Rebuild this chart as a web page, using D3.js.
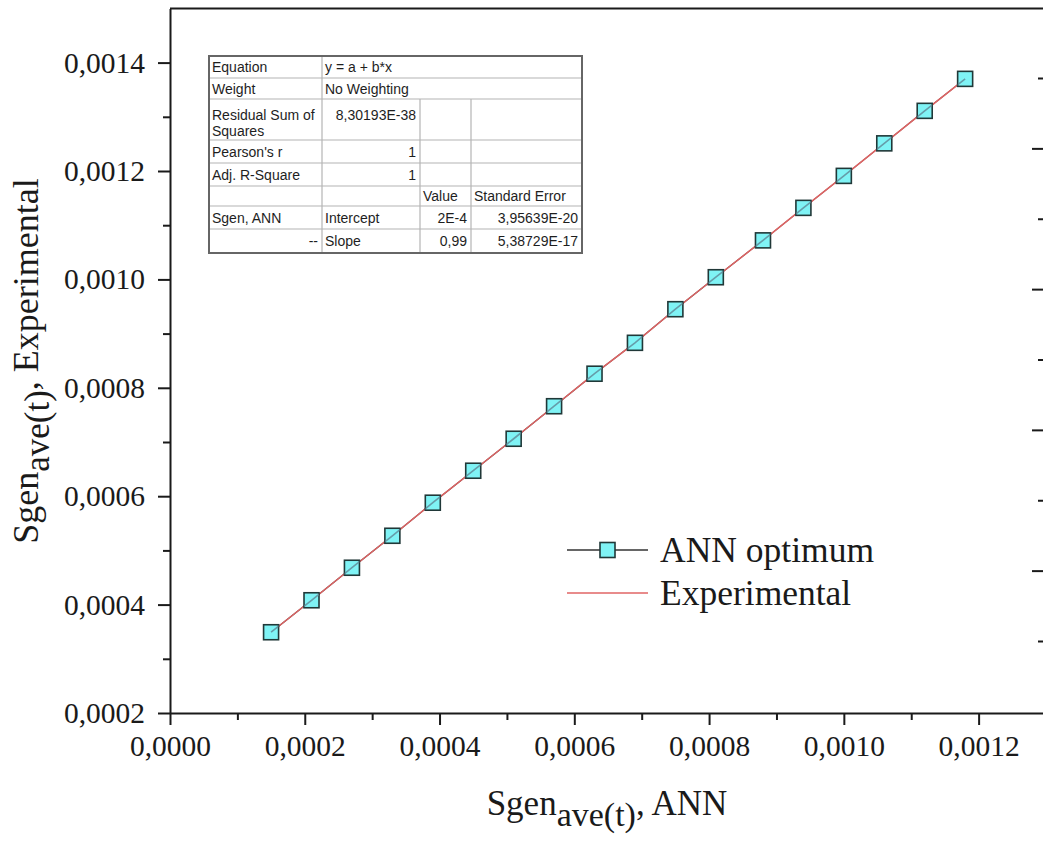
<!DOCTYPE html>
<html>
<head>
<meta charset="utf-8">
<script src="https://cdn.jsdelivr.net/npm/d3@7/dist/d3.min.js"></script>
<style>
  html, body { margin: 0; padding: 0; background: #fff; }
  svg { display: block; }
</style>
</head>
<body>
<script>
// ---------------- data ----------------
const xValues   = [0.00015, 0.00021, 0.00027, 0.00033, 0.00039, 0.00045, 0.00051, 0.00057, 0.00063,
                   0.00069, 0.00075, 0.00081, 0.00088, 0.00094, 0.00100, 0.00106, 0.00112, 0.00118];
const annValues = [0.000349, 0.000408, 0.000468, 0.000527, 0.000588, 0.000647, 0.000706, 0.000766, 0.000826,
                   0.000883, 0.000945, 0.001004, 0.001072, 0.001132, 0.001191, 0.001251, 0.001311, 0.001370];
const expValues = [0.000349, 0.000408, 0.000468, 0.000527, 0.000588, 0.000647, 0.000706, 0.000766, 0.000826,
                   0.000883, 0.000945, 0.001004, 0.001072, 0.001132, 0.001191, 0.001251, 0.001311, 0.001370];

const xMajorTicks = [0, 0.0002, 0.0004, 0.0006, 0.0008, 0.0010, 0.0012];
const xTickLabels = ["0,0000", "0,0002", "0,0004", "0,0006", "0,0008", "0,0010", "0,0012"];
const xMinorTicks = [0.0001, 0.0003, 0.0005, 0.0007, 0.0009, 0.0011];
const yMajorTicks = [0.0002, 0.0004, 0.0006, 0.0008, 0.0010, 0.0012, 0.0014];
const yTickLabels = ["0,0002", "0,0004", "0,0006", "0,0008", "0,0010", "0,0012", "0,0014"];
const yMinorTicks = [0.0003, 0.0005, 0.0007, 0.0009, 0.0011, 0.0013];
const rightTicks  = [0, 1, 2, 3, 4, 5, 6, 7, 8];

const seriesNames = ["ANN optimum", "Experimental"];

const tableRows = [
  ["Equation", "y = a + b*x"],
  ["Weight", "No Weighting"],
  ["Residual Sum of|Squares", "8,30193E-38", "", ""],
  ["Pearson's r", "1", "", ""],
  ["Adj. R-Square", "1", "", ""],
  ["", "", "Value", "Standard Error"],
  ["Sgen, ANN", "Intercept", "2E-4", "3,95639E-20"],
  ["--", "Slope", "0,99", "5,38729E-17"]
];

// ---------------- layout ----------------
const W = 1043, H = 841;
const svg = d3.select("body").append("svg").attr("width", W).attr("height", H);

const x = d3.scaleLinear().domain([0, 0.0013]).range([170, 1046]);
const y = d3.scaleLinear().domain([0.0002, 0.0015]).range([713, 8.4]);

const serif = "'Liberation Serif', 'Times New Roman', serif";
const sans = "'Liberation Sans', Arial, sans-serif";
const axisColor = "#1a1a1a";

// frame top line
svg.append("line")
  .attr("x1", x(0)).attr("x2", x(0.0013))
  .attr("y1", y(0.0015)).attr("y2", y(0.0015))
  .attr("stroke", axisColor).attr("stroke-width", 2);

// bottom axis
const gx = svg.append("g").attr("transform", `translate(0,${y(0.0002)})`);
gx.call(d3.axisBottom(x).tickValues(xMajorTicks).tickSize(12).tickSizeOuter(0)
  .tickFormat((d, i) => xTickLabels[i]).tickPadding(10));
gx.append("g").call(d3.axisBottom(x).tickValues(xMinorTicks).tickSize(7).tickFormat(""))
  .select(".domain").remove();
gx.selectAll("path.domain").attr("stroke", axisColor).attr("stroke-width", 2);
gx.selectAll(".tick line").attr("stroke", axisColor).attr("stroke-width", 2);
gx.selectAll(".tick text").attr("font-family", serif).attr("font-size", 29.5).attr("fill", "#1a1a1a");

// left axis
const gy = svg.append("g").attr("transform", `translate(${x(0)},0)`);
gy.call(d3.axisLeft(y).tickValues(yMajorTicks).tickSize(12).tickSizeOuter(0)
  .tickFormat((d, i) => yTickLabels[i]).tickPadding(13));
gy.append("g").call(d3.axisLeft(y).tickValues(yMinorTicks).tickSize(7).tickFormat(""))
  .select(".domain").remove();
gy.selectAll("path.domain").attr("stroke", axisColor).attr("stroke-width", 2);
gy.selectAll(".tick line").attr("stroke", axisColor).attr("stroke-width", 2);
gy.selectAll(".tick text").attr("font-family", serif).attr("font-size", 29.5).attr("fill", "#1a1a1a");

// right-edge tick marks (frame of cropped neighbour)
const rScale = d3.scaleLinear().domain([0, 8]).range([641, 78]);
const gr = svg.append("g").attr("transform", `translate(${W},0)`);
gr.call(d3.axisLeft(rScale).tickValues(rightTicks.filter(d => d % 2 === 1)).tickSize(11).tickFormat(""));
gr.append("g").call(d3.axisLeft(rScale).tickValues(rightTicks.filter(d => d % 2 === 0)).tickSize(5).tickFormat(""));
gr.selectAll("path.domain").remove();
gr.selectAll(".tick line").attr("stroke", axisColor).attr("stroke-width", 2);

// ---------------- series ----------------
const pts = xValues.map((d, i) => ({ x: d, ann: annValues[i], exp: expValues[i] }));
const lineAnn = d3.line().x(d => x(d.x)).y(d => y(d.ann));
const lineExp = d3.line().x(d => x(d.x)).y(d => y(d.exp));

svg.append("path").datum(pts).attr("d", lineAnn)
  .attr("fill", "none").attr("stroke", "#333").attr("stroke-width", 1.2);
svg.append("path").datum(pts).attr("d", lineExp)
  .attr("fill", "none").attr("stroke", "#e06464").attr("stroke-width", 1.5);

const ms = 15;
// clip region = symbol squares, so the line through the symbols shows only inside them
svg.append("defs").append("clipPath").attr("id", "symClip")
  .selectAll("rect").data(pts).join("rect")
  .attr("x", d => x(d.x) - ms / 2).attr("y", d => y(d.ann) - ms / 2)
  .attr("width", ms).attr("height", ms);

svg.append("g").selectAll("rect").data(pts).join("rect")
  .attr("x", d => x(d.x) - ms / 2).attr("y", d => y(d.ann) - ms / 2)
  .attr("width", ms).attr("height", ms)
  .attr("fill", "#7ff3f5")
  .attr("stroke", "#203838").attr("stroke-width", 1.6);
svg.append("path").datum(pts).attr("d", lineAnn).attr("clip-path", "url(#symClip)")
  .attr("fill", "none").attr("stroke", "#5f8796").attr("stroke-width", 1.6).attr("stroke-opacity", 0.8);

// ---------------- legend ----------------
const lg = svg.append("g");
const lx0 = 567, lx1 = 648, ly0 = 550, ly1 = 593;
lg.append("line").attr("x1", lx0).attr("x2", lx1).attr("y1", ly0).attr("y2", ly0)
  .attr("stroke", "#333").attr("stroke-width", 1.4);
lg.append("rect").attr("x", (lx0 + lx1) / 2 - 7.5).attr("y", ly0 - 7.5).attr("width", 15).attr("height", 15)
  .attr("fill", "#7ff3f5").attr("stroke", "#203838").attr("stroke-width", 1.6);
lg.append("line").attr("x1", lx0).attr("x2", lx1).attr("y1", ly1).attr("y2", ly1)
  .attr("stroke", "#e06464").attr("stroke-width", 1.5);
lg.selectAll("text").data(seriesNames).join("text")
  .attr("x", 660).attr("y", (d, i) => (i === 0 ? ly0 : ly1) + 12)
  .attr("font-family", serif).attr("font-size", 35.5).attr("fill", "#1a1a1a")
  .text(d => d);

// ---------------- axis titles ----------------
const xt = svg.append("text").attr("x", 607).attr("y", 815).attr("text-anchor", "middle")
  .attr("font-family", serif).attr("font-size", 35).attr("fill", "#1a1a1a");
xt.append("tspan").text("Sgen");
xt.append("tspan").attr("dy", 11).attr("font-size", 34).text("ave(t)");
xt.append("tspan").attr("dy", -11).text(", ANN");

const yt = svg.append("text").attr("transform", "translate(38,361) rotate(-90)").attr("text-anchor", "middle")
  .attr("font-family", serif).attr("font-size", 36).attr("fill", "#1a1a1a");
yt.append("tspan").text("Sgen");
yt.append("tspan").attr("dy", 11).attr("font-size", 35).text("ave(t)");
yt.append("tspan").attr("dy", -11).text(", Experimental");

// ---------------- fit table ----------------
const rowEdges = [56, 78, 99, 140, 163, 186, 206, 229, 253];
const colEdges = [209, 322, 420, 471, 582];
const tg = svg.append("g").attr("font-family", sans).attr("font-size", 14).attr("fill", "#1e1e1e");
tg.append("rect").attr("x", colEdges[0]).attr("y", rowEdges[0])
  .attr("width", colEdges[4] - colEdges[0]).attr("height", rowEdges[8] - rowEdges[0])
  .attr("fill", "#fff").attr("stroke", "none");
tg.selectAll("line.h").data(rowEdges.slice(1, -1)).join("line").attr("class", "h")
  .attr("x1", colEdges[0]).attr("x2", colEdges[4]).attr("y1", d => d).attr("y2", d => d)
  .attr("stroke", "#b4b4b4").attr("stroke-width", 1.2);
tg.append("line").attr("x1", colEdges[1]).attr("x2", colEdges[1]).attr("y1", rowEdges[0]).attr("y2", rowEdges[8])
  .attr("stroke", "#b4b4b4").attr("stroke-width", 1.2);
[colEdges[2], colEdges[3]].forEach(cx => {
  tg.append("line").attr("x1", cx).attr("x2", cx).attr("y1", rowEdges[2]).attr("y2", rowEdges[8])
    .attr("stroke", "#b4b4b4").attr("stroke-width", 1.2);
});
tg.append("rect").attr("x", colEdges[0]).attr("y", rowEdges[0])
  .attr("width", colEdges[4] - colEdges[0]).attr("height", rowEdges[8] - rowEdges[0])
  .attr("fill", "none").attr("stroke", "#666").attr("stroke-width", 2);

const isNum = s => /^[-0-9,E.]+$/.test(s) && s !== "--";
tableRows.forEach((row, ri) => {
  const top = rowEdges[ri], bot = rowEdges[ri + 1];
  row.forEach((cell, ci) => {
    if (!cell) return;
    const lines = cell.split("|");
    const right = isNum(cell) || cell === "--";
    const xl = right ? colEdges[ci + 1] - 4 : colEdges[ci] + 3;
    lines.forEach((ln, li) => {
      const cy = lines.length > 1 ? top + 16 + li * 16 : (ri === 2 ? top + 16 : (top + bot) / 2);
      tg.append("text").attr("x", xl).attr("y", cy + 5)
        .attr("text-anchor", right ? "end" : "start").text(ln);
    });
  });
});
</script>
</body>
</html>
